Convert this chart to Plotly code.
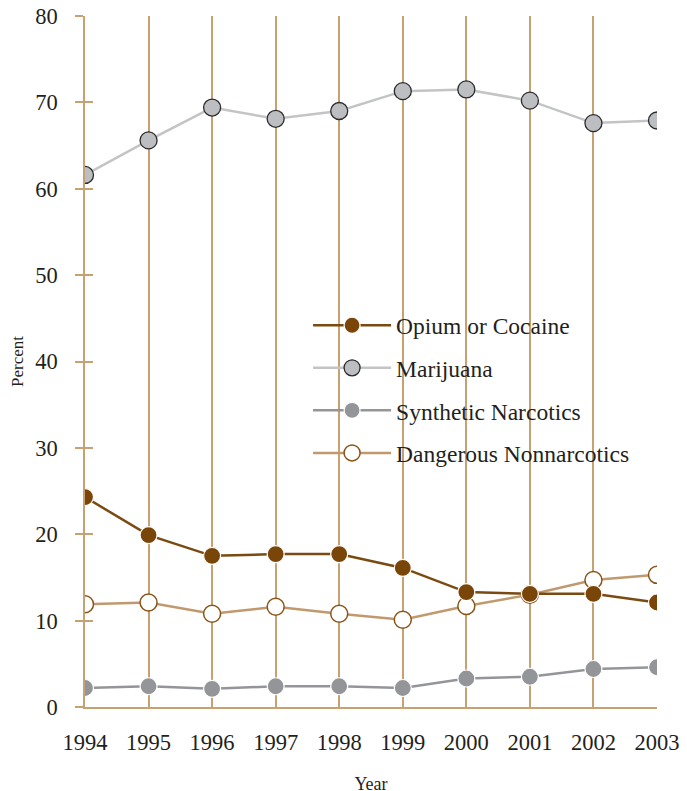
import plotly.graph_objects as go

years = [1994, 1995, 1996, 1997, 1998, 1999, 2000, 2001, 2002, 2003]
opium = [24.3, 19.9, 17.5, 17.7, 17.7, 16.1, 13.3, 13.1, 13.1, 12.1]
marijuana = [61.6, 65.6, 69.4, 68.1, 69.0, 71.3, 71.5, 70.2, 67.6, 67.9]
synthetic = [2.2, 2.4, 2.1, 2.4, 2.4, 2.2, 3.3, 3.5, 4.4, 4.6]
dangerous = [11.9, 12.1, 10.8, 11.6, 10.8, 10.1, 11.7, 13.0, 14.7, 15.3]

names = ["Opium or Cocaine", "Marijuana", "Synthetic Narcotics", "Dangerous Nonnarcotics"]

TAN = "#C8A173"
FONT = "Liberation Serif, Times New Roman, serif"

fig = go.Figure()

fig.add_trace(go.Scatter(
    x=years, y=marijuana, name=names[1], mode="lines+markers", legendgroup="b",
    legendrank=2,
    line=dict(color="#C3C4C6", width=2.5),
    marker=dict(size=17, color="#BDBEC1", line=dict(color="#2a2a2a", width=1.3)),
))
fig.add_trace(go.Scatter(
    x=years, y=synthetic, name=names[2], mode="lines+markers", legendgroup="c",
    legendrank=3,
    line=dict(color="#939598", width=2.5),
    marker=dict(size=17, color="#939598", line=dict(color="white", width=1.2)),
))
fig.add_trace(go.Scatter(
    x=years, y=dangerous, name=names[3], mode="lines+markers", legendgroup="d",
    legendrank=4,
    line=dict(color="#C09A6E", width=2.5),
    marker=dict(size=17, color="white", line=dict(color="#8A5418", width=1.5)),
))
fig.add_trace(go.Scatter(
    x=years, y=opium, name=names[0], mode="lines+markers", legendgroup="a",
    legendrank=1,
    line=dict(color="#7A4A10", width=2.5),
    marker=dict(size=17, color="#7A4508", line=dict(color="white", width=1.2)),
))

# invisible trace on overlaid axis to get inside tick marks
fig.add_trace(go.Scatter(x=years, y=opium, yaxis="y2", mode="none",
                         showlegend=False, hoverinfo="skip"))

fig.update_layout(
    width=687, height=791,
    margin=dict(l=77, r=38, t=8, b=92, autoexpand=False),
    paper_bgcolor="white", plot_bgcolor="white",
    font=dict(family=FONT, color="#231F20"),
    showlegend=True,
    legend=dict(
        x=0.39, y=0.584, xanchor="left", yanchor="top",
        bgcolor="rgba(0,0,0,0)",
        font=dict(family=FONT, size=23.5, color="#231F20"),
        traceorder="grouped", tracegroupgap=9,
        itemwidth=78,
    ),
    xaxis=dict(
        range=[1994, 2003], dtick=1, tick0=1994, automargin=False,
        showgrid=True, gridcolor=TAN, gridwidth=1.5,
        showline=True, linecolor=TAN, linewidth=1.5,
        zeroline=False, ticks="",
        tickfont=dict(family=FONT, size=22.5, color="#231F20"),
        ticklabelstandoff=14, ticklabeloverflow="allow",
        title=dict(text="Year", font=dict(family=FONT, size=18, color="#231F20"), standoff=24),
    ),
    yaxis=dict(
        range=[0, 80], dtick=10, showgrid=False, zeroline=False, automargin=False,
        showline=True, linecolor=TAN, linewidth=1.5,
        ticks="outside", ticklen=8, tickcolor=TAN, tickwidth=1.5,
        tickfont=dict(family=FONT, size=22.5, color="#231F20"),
        ticklabelstandoff=13, ticklabeloverflow="allow",
        title=dict(text="Percent", font=dict(family=FONT, size=17, color="#231F20"), standoff=11),
    ),
    yaxis2=dict(
        range=[0, 80], dtick=10, overlaying="y", side="left", automargin=False,
        showgrid=False, zeroline=False, showticklabels=False,
        ticks="inside", ticklen=8, tickcolor=TAN, tickwidth=1.5,
    ),
)

fig.write_html("out.html")
